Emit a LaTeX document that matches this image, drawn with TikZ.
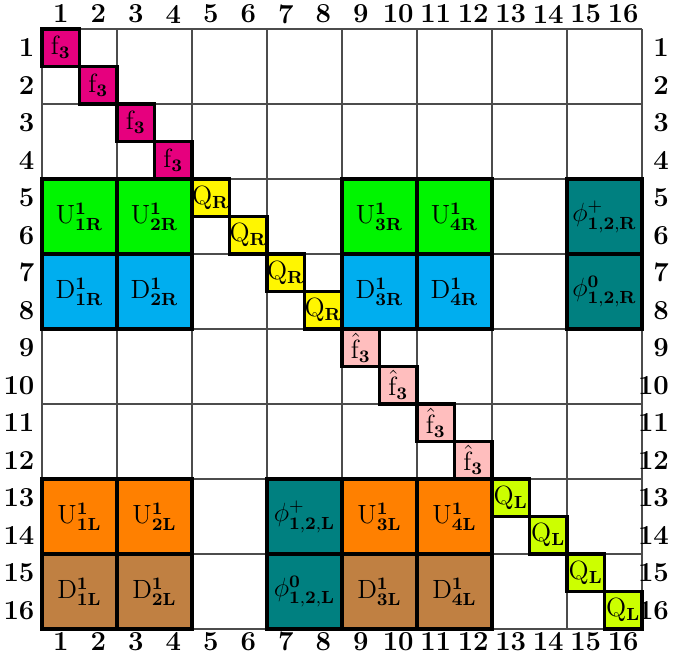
\documentclass[tikz,border=0pt]{standalone}
\usepackage{amsmath}
\definecolor{cmag}{RGB}{230,0,126}
\definecolor{cyel}{RGB}{255,246,0}
\definecolor{cgreen}{RGB}{0,245,0}
\definecolor{cblue}{RGB}{0,174,239}
\definecolor{cpink}{RGB}{255,190,190}
\definecolor{corange}{RGB}{255,128,0}
\definecolor{cbrown}{RGB}{192,128,66}
\definecolor{cteal}{RGB}{0,128,128}
\definecolor{clime}{RGB}{204,255,0}
\newcommand{\bs}[1]{\mathbf{#1}}
\begin{document}
\begin{tikzpicture}[x=0.6cm,y=-0.6cm,
  gridl/.style={draw=black!70,line width=0.5pt},
  blk/.style={draw=black,line width=1.4pt,inner sep=0pt,font=\fontsize{12}{14}\selectfont},
  c1/.style={blk,minimum size=0.6cm},
  c2/.style={blk,minimum size=1.2cm},
  ax/.style={inner sep=0pt,font=\fontsize{12.5}{14}\selectfont\bfseries}]
\useasboundingbox (-1.12,-0.773) rectangle (17.387,16.667);
\foreach \k in {0,2,...,16}{
  \draw[gridl] (\k,0) -- (\k,16);
  \draw[gridl] (0,\k) -- (16,\k);
}
% diagonal single cells
\foreach \i in {1,...,4}{
  \node[c1,fill=cmag] (f\i) at (\i-0.5,\i-0.5) {$\mathrm{f}_{\bs 3}$};
  \node[c1,fill=cyel] (qr\i) at (\i+3.5,\i+3.5) {$\mathrm{Q}_{\bs R}$};
  \node[c1,fill=cpink] (fh\i) at (\i+7.5,\i+7.5) {$\hat{\mathrm{f}}_{\bs 3}$};
  \node[c1,fill=clime] (ql\i) at (\i+11.5,\i+11.5) {$\mathrm{Q}_{\bs L}$};
}
% R blocks
\node[c2,fill=cgreen] (u1r) at (1,5) {$\mathrm{U}^{\bs 1}_{\bs{1R}}$};
\node[c2,fill=cgreen] (u2r) at (3,5) {$\mathrm{U}^{\bs 1}_{\bs{2R}}$};
\node[c2,fill=cgreen] (u3r) at (9,5) {$\mathrm{U}^{\bs 1}_{\bs{3R}}$};
\node[c2,fill=cgreen] (u4r) at (11,5) {$\mathrm{U}^{\bs 1}_{\bs{4R}}$};
\node[c2,fill=cteal] (ppr) at (15,5) {$\phi^{\bs +}_{\bs{1,2,R}}$};
\node[c2,fill=cblue] (d1r) at (1,7) {$\mathrm{D}^{\bs 1}_{\bs{1R}}$};
\node[c2,fill=cblue] (d2r) at (3,7) {$\mathrm{D}^{\bs 1}_{\bs{2R}}$};
\node[c2,fill=cblue] (d3r) at (9,7) {$\mathrm{D}^{\bs 1}_{\bs{3R}}$};
\node[c2,fill=cblue] (d4r) at (11,7) {$\mathrm{D}^{\bs 1}_{\bs{4R}}$};
\node[c2,fill=cteal] (p0r) at (15,7) {$\phi^{\bs 0}_{\bs{1,2,R}}$};
% L blocks
\node[c2,fill=corange] (u1l) at (1,13) {$\mathrm{U}^{\bs 1}_{\bs{1L}}$};
\node[c2,fill=corange] (u2l) at (3,13) {$\mathrm{U}^{\bs 1}_{\bs{2L}}$};
\node[c2,fill=cteal] (ppl) at (7,13) {$\phi^{\bs +}_{\bs{1,2,L}}$};
\node[c2,fill=corange] (u3l) at (9,13) {$\mathrm{U}^{\bs 1}_{\bs{3L}}$};
\node[c2,fill=corange] (u4l) at (11,13) {$\mathrm{U}^{\bs 1}_{\bs{4L}}$};
\node[c2,fill=cbrown] (d1l) at (1,15) {$\mathrm{D}^{\bs 1}_{\bs{1L}}$};
\node[c2,fill=cbrown] (d2l) at (3,15) {$\mathrm{D}^{\bs 1}_{\bs{2L}}$};
\node[c2,fill=cteal] (p0l) at (7,15) {$\phi^{\bs 0}_{\bs{1,2,L}}$};
\node[c2,fill=cbrown] (d3l) at (9,15) {$\mathrm{D}^{\bs 1}_{\bs{3L}}$};
\node[c2,fill=cbrown] (d4l) at (11,15) {$\mathrm{D}^{\bs 1}_{\bs{4L}}$};
% axis numbers
\foreach \i in {1,...,16}{
  \node[ax] (t\i) at (\i-0.5,-0.4) {\i};
  \node[ax] (b\i) at (\i-0.5,16.33) {\i};
  \node[ax,anchor=east] (l\i) at (-0.19,\i-0.5) {\i};
  \node[ax,anchor=east] (r\i) at (16.73,\i-0.5) {\i};
}
\end{tikzpicture}
\end{document}
